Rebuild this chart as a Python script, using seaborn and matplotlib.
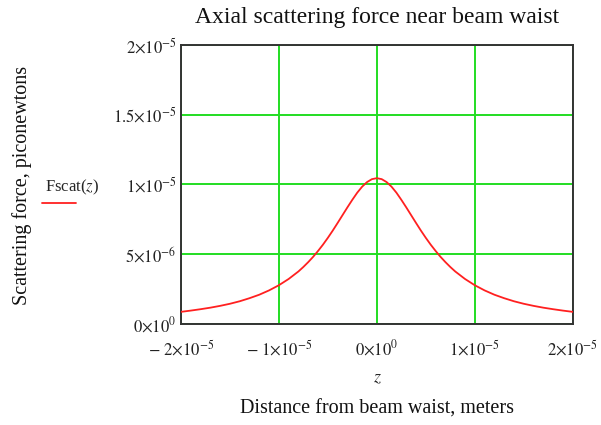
import numpy as np
import pandas as pd
import matplotlib
matplotlib.use("Agg")
import matplotlib.pyplot as plt
import seaborn as sns
from matplotlib.lines import Line2D

# values (z in units of 1e-5 m, force in units of 1e-5)
z_pos = [0.0, 0.05, 0.1, 0.15, 0.2, 0.25, 0.3, 0.35, 0.4, 0.45, 0.5, 0.55, 0.6, 0.65,
         0.7, 0.75, 0.8, 0.9, 1.0,
         1.1, 1.2, 1.3, 1.4, 1.5, 1.6, 1.7, 1.8, 1.9, 2.0]
f_pos = [1.045, 1.038, 1.017, 0.984, 0.941, 0.890, 0.836, 0.780, 0.724, 0.669, 0.617, 0.568,
         0.523, 0.481, 0.443, 0.408, 0.376, 0.322, 0.277,
         0.240, 0.209, 0.184, 0.162, 0.144, 0.129, 0.116, 0.105, 0.095, 0.086]

z_vals = [-v for v in z_pos[:0:-1]] + z_pos
f_vals = f_pos[:0:-1] + f_pos

x_ticks = [-2e-5, -1e-5, 0, 1e-5, 2e-5]
x_labels = [r'$-\ 2{\times}10^{-5}$', r'$-\ 1{\times}10^{-5}$', r'$0{\times}10^{0}$',
            r'$1{\times}10^{-5}$', r'$2{\times}10^{-5}$']
y_ticks = [0, 5e-6, 1e-5, 1.5e-5, 2e-5]
y_labels = [r'$0{\times}10^{0}$', r'$5{\times}10^{-6}$', r'$1{\times}10^{-5}$',
            r'$1.5{\times}10^{-5}$', r'$2{\times}10^{-5}$']

df = pd.DataFrame({'z': np.array(z_vals) * 1e-5, 'F': np.array(f_vals) * 1e-5})

sns.set_style('white')
plt.rcParams['font.family'] = ['Liberation Serif', 'DejaVu Serif']
plt.rcParams['mathtext.fontset'] = 'stix'

fig = plt.figure(figsize=(6.01, 4.25), dpi=100)
ax = fig.add_axes([0.301, 0.238, 0.652, 0.656])

sns.lineplot(data=df, x='z', y='F', ax=ax, color='#ff2020', linewidth=1.3, zorder=3)

ax.set_xlim(-2e-5, 2e-5)
ax.set_ylim(0, 2e-5)
ax.set_xticks(x_ticks)
ax.set_xticklabels(x_labels, fontsize=12)
ax.set_yticks(y_ticks)
ax.set_yticklabels(y_labels, fontsize=12)
ax.tick_params(axis='x', length=0, pad=11, colors='#222222')
ax.tick_params(axis='y', length=0, pad=3, colors='#222222')
ax.grid(True, color='#22dd22', linewidth=1.4)
for s in ax.spines.values():
    s.set_color('#333333')
    s.set_linewidth(1.4)

ax.set_xlabel('')
ax.set_ylabel('')
fig.text(377 / 601, 1 - 18 / 425, 'Axial scattering force near beam waist',
         ha='center', va='center', fontsize=17, color='#111111')

fig.text(377 / 601, 1 - 378 / 425, r'$z$', ha='center', va='center', fontsize=13)
fig.text(377 / 601, 1 - 409 / 425, 'Distance from beam waist, meters',
         ha='center', va='center', fontsize=14.5, color='#111111')
fig.text(22 / 601, 1 - 185 / 425, 'Scattering force, piconewtons', rotation=90,
         ha='center', va='center', fontsize=14.5, color='#111111')
fig.text(72 / 601, 1 - 187 / 425, r'Fscat($z$)', ha='center', va='center', fontsize=12)
fig.add_artist(Line2D([42 / 601, 76 / 601], [1 - 203 / 425, 1 - 203 / 425],
                      color='#ff2020', linewidth=1.3, transform=fig.transFigure))

fig.savefig('out.png', dpi=100)
